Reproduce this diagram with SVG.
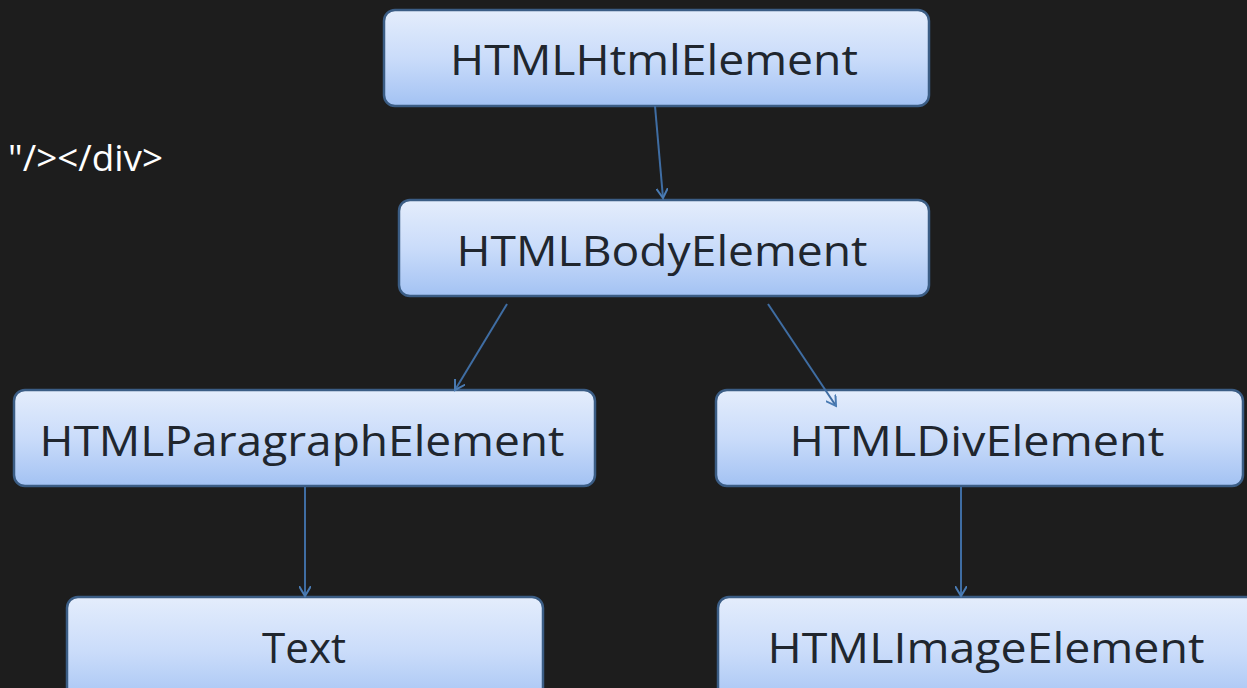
<svg xmlns="http://www.w3.org/2000/svg" width="1247" height="688" viewBox="0 0 1247 688">
<style>
.box{fill:url(#g);stroke:#3b5d85;stroke-width:2.5}
.lbl{font-family:"Open Sans","Noto Sans",sans-serif;font-size:42px;fill:#20262e;text-anchor:middle}
.conn{stroke:#3f6da3;stroke-width:2;fill:none;marker-end:url(#ah)}
</style>
<defs>
<linearGradient id="g" x1="0" y1="0" x2="0" y2="1">
<stop offset="0" stop-color="#e4edfc"/>
<stop offset="0.5" stop-color="#cadcfa"/>
<stop offset="1" stop-color="#a3c2f3"/>
</linearGradient>
<marker id="ah" viewBox="0 0 12 12" refX="10" refY="6" markerWidth="12" markerHeight="12" markerUnits="userSpaceOnUse" orient="auto">
<path d="M0,0 L10,6 L0,12" fill="none" stroke="#4a7bb3" stroke-width="2"/>
</marker>
</defs>
<rect width="1247" height="688" fill="#1d1d1d"/>
<text x="8" y="171" font-family="Open Sans,sans-serif" font-size="36" fill="#ffffff" textLength="155" lengthAdjust="spacingAndGlyphs">"/&gt;&lt;/div&gt;</text>
<g id="n-html"><rect class="box" x="384" y="10" width="545" height="96" rx="11"/><text class="lbl" x="654" y="75" textLength="408" lengthAdjust="spacingAndGlyphs">HTMLHtmlElement</text></g>
<g id="n-body"><rect class="box" x="399" y="200" width="530" height="96" rx="11"/><text class="lbl" x="662" y="266" textLength="411" lengthAdjust="spacingAndGlyphs">HTMLBodyElement</text></g>
<g id="n-para"><rect class="box" x="14" y="390" width="581" height="96" rx="11"/><text class="lbl" x="302" y="456" textLength="525" lengthAdjust="spacingAndGlyphs">HTMLParagraphElement</text></g>
<g id="n-div"><rect class="box" x="716" y="390" width="527" height="96" rx="11"/><text class="lbl" x="977" y="456" textLength="375" lengthAdjust="spacingAndGlyphs">HTMLDivElement</text></g>
<g id="n-text"><rect class="box" x="67" y="597" width="476" height="110" rx="11"/><text class="lbl" x="304" y="663" textLength="84" lengthAdjust="spacingAndGlyphs">Text</text></g>
<g id="n-img"><rect class="box" x="718" y="597" width="545" height="110" rx="11"/><text class="lbl" x="986" y="663" textLength="437" lengthAdjust="spacingAndGlyphs">HTMLImageElement</text></g>
<g id="connectors">
<line class="conn" x1="655" y1="106" x2="663" y2="198"/>
<line class="conn" x1="507" y1="304" x2="455" y2="390"/>
<line class="conn" x1="768" y1="304" x2="836" y2="406"/>
<line class="conn" x1="305" y1="487" x2="305" y2="596"/>
<line class="conn" x1="961" y1="487" x2="961" y2="596"/>
</g>
</svg>
